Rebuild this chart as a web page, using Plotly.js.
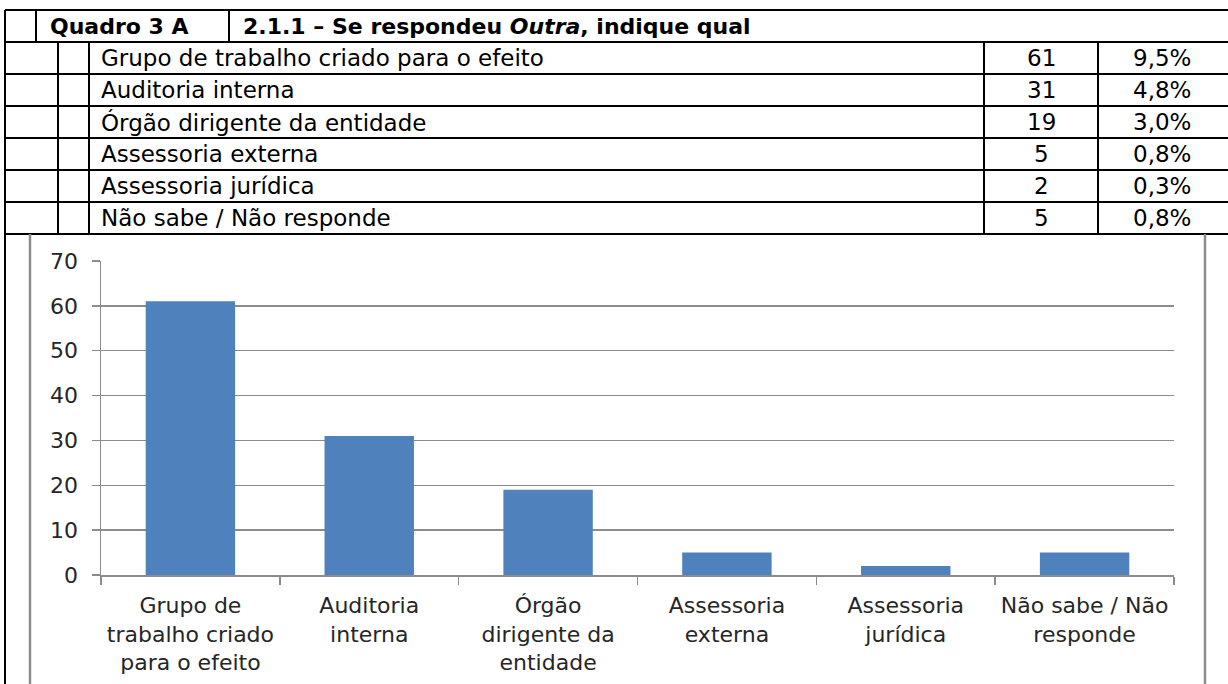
<!DOCTYPE html>
<html>
<head>
<meta charset="utf-8">
<script src="https://cdn.plot.ly/plotly-3.0.1.min.js"></script>
<style>
html, body { margin: 0; padding: 0; background: #ffffff; }
#chart { width: 1228px; height: 684px; }
</style>
</head>
<body>
<div id="chart"></div>
<script>
// ---- Data ----
const tableTitle = "Quadro 3 A";
const questionTitle = "2.1.1 – Se respondeu <i>Outra</i>, indique qual";
const categories = [
  "Grupo de trabalho criado para o efeito",
  "Auditoria interna",
  "Órgão dirigente da entidade",
  "Assessoria externa",
  "Assessoria jurídica",
  "Não sabe / Não responde"
];
const counts = [61, 31, 19, 5, 2, 5];
const percents = ["9,5%", "4,8%", "3,0%", "0,8%", "0,3%", "0,8%"];
const tickLabels = [
  "Grupo de<br>trabalho criado<br>para o efeito",
  "Auditoria<br>interna",
  "Órgão<br>dirigente da<br>entidade",
  "Assessoria<br>externa",
  "Assessoria<br>jurídica",
  "Não sabe / Não<br>responde"
];
const yTicks = [0, 10, 20, 30, 40, 50, 60, 70];

// ---- Layout helpers (pixel -> paper) ----
const W = 1228, H = 684;
const PL = 101, PR = 1174, PT = 261, PB = 575;
const px = x => (x - PL) / (PR - PL);
const py = y => (PB - y) / (PB - PT);

const BLACK = "#000000";
const GRAY = "#8c8c8c";
const shapes = [];
function line(x0, y0, x1, y1, color, width) {
  shapes.push({type: "line", xref: "paper", yref: "paper",
    x0: px(x0), y0: py(y0), x1: px(x1), y1: py(y1),
    line: {color: color, width: width}, layer: "above"});
}

// table horizontal lines
const rowTop = 42, rowH = 32;
line(5, 10, 1228, 10, BLACK, 2);
for (let i = 0; i <= categories.length; i++) {
  line(5, rowTop + i * rowH, 1228, rowTop + i * rowH, BLACK, 2);
}
// header verticals
line(5, 10, 5, 42, BLACK, 2);
line(36, 10, 36, 42, BLACK, 2);
line(229, 10, 229, 42, BLACK, 2);
// data verticals
const tableBottom = rowTop + categories.length * rowH;
[58, 89, 984, 1098].forEach(x => line(x, rowTop, x, tableBottom, BLACK, 2));
line(5, rowTop, 5, H, BLACK, 2);
// chart frame
line(30, tableBottom, 30, H, GRAY, 2.5);
line(1205, tableBottom, 1205, H, GRAY, 2.5);

const annotations = [];
function text(t, x, y, anchor, bold, size) {
  annotations.push({text: bold ? "<b>" + t + "</b>" : t, xref: "paper", yref: "paper",
    x: px(x), y: py(y), xanchor: anchor, yanchor: "middle", showarrow: false,
    font: {family: "DejaVu Sans, Arial, sans-serif", size: size, color: "#000000"}});
}
text(tableTitle, 48, 26, "left", true, 22);
text(questionTitle, 241, 26, "left", true, 22);
categories.forEach((c, i) => {
  const yc = rowTop + i * rowH + rowH / 2;
  text(c, 99, yc, "left", false, 23);
  text(String(counts[i]), 1041, yc, "center", false, 23);
  text(percents[i], 1162, yc, "center", false, 23);
});

const data = [{
  type: "bar",
  x: categories,
  y: counts,
  marker: {color: "#4f81bd"},
  hoverinfo: "skip"
}];

const layout = {
  width: W, height: H,
  margin: {l: PL, r: W - PR, t: PT, b: H - PB, pad: 0},
  paper_bgcolor: "#ffffff", plot_bgcolor: "#ffffff",
  showlegend: false,
  bargap: 0.5,
  font: {family: "DejaVu Sans, sans-serif", color: "#262626"},
  xaxis: {
    type: "category", automargin: false,
    tickmode: "array", tickvals: categories, ticktext: tickLabels,
    showline: true, linecolor: GRAY, linewidth: 1.5,
    ticks: "outside", tickson: "boundaries", ticklen: 8, tickcolor: GRAY, tickwidth: 1.5,
    ticklabelstandoff: 10,
    showgrid: false, zeroline: false,
    tickfont: {family: "DejaVu Sans, sans-serif", size: 22, color: "#262626"}
  },
  yaxis: {
    range: [0, 70], automargin: false,
    tickmode: "array", tickvals: yTicks,
    showline: true, linecolor: GRAY, linewidth: 1.5,
    ticks: "outside", ticklen: 8, tickcolor: GRAY, tickwidth: 1.5,
    ticklabelstandoff: 9,
    showgrid: true, gridcolor: GRAY, gridwidth: 1.5, zeroline: false,
    tickfont: {family: "DejaVu Sans, sans-serif", size: 22, color: "#262626"}
  },
  shapes: shapes,
  annotations: annotations
};

Plotly.newPlot("chart", data, layout, {displayModeBar: false, staticPlot: true});
</script>
</body>
</html>
